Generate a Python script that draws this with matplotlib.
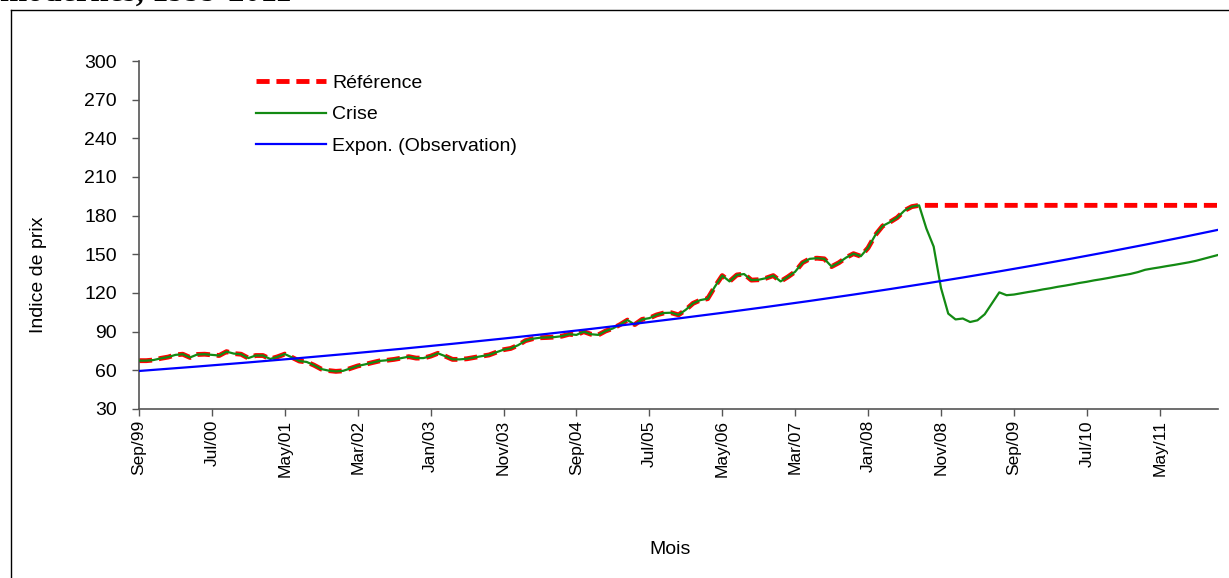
import numpy as np
import matplotlib
matplotlib.use("Agg")
import matplotlib.pyplot as plt
from matplotlib.lines import Line2D

# Monthly price index, Sep 1999 .. Jan 2012
crise = [
    67.5, 67.5, 68.0, 69.3, 70.3, 72.0, 72.5, 70.0, 72.3, 72.5,
    72.0, 71.5, 74.5, 73.0, 72.5, 69.5, 71.5, 71.5, 68.8, 70.5,
    72.6, 70.0, 67.2, 66.5, 64.0, 61.0, 59.8, 59.2, 59.6, 61.5,
    63.4, 64.6, 66.0, 67.3, 67.8, 68.5, 69.5, 70.6, 69.5, 69.5,
    71.0, 73.2, 71.0, 68.5, 68.5, 69.0, 70.0, 71.0, 71.9, 74.0,
    76.0, 77.0, 79.5, 83.0, 84.5, 85.3, 85.5, 85.8, 86.5, 88.0,
    87.5, 90.0, 88.0, 87.5, 90.5, 92.5, 95.5, 99.0, 95.5, 99.5,
    100.5, 103.0, 104.5, 104.7, 103.0, 107.0, 112.0, 114.5, 115.6, 125.0,
    133.5, 129.0, 134.0, 134.7, 130.0, 130.3, 131.5, 133.5, 129.0, 132.5,
    136.5, 143.5, 146.5, 147.0, 146.5, 140.5, 143.5, 147.5, 150.5, 148.5,
    155.0, 165.0, 172.0, 175.0, 178.5, 184.0, 187.0, 188.0,
    170.0, 156.0, 124.0, 104.0, 99.5, 100.2, 97.5, 98.8, 103.5, 112.0,
    120.5, 118.3, 118.8, 119.8, 120.8, 121.7, 122.8, 123.7, 124.8, 125.7,
    126.7, 127.8, 128.7, 129.8, 130.7, 131.7, 132.8, 133.8, 134.8, 136.2,
    138.0, 139.0, 139.9, 140.9, 141.8, 142.8, 143.8, 145.0, 146.5, 148.0,
    149.5,
]
peak_idx = 107          # last month before the crisis
ref_level = 188.0       # reference stays at the peak level afterwards

# exponential trendline: value at first and last month
trend_first = 59.5
trend_last = 169.0

tick_labels = ["Sep/99", "Jul/00", "May/01", "Mar/02", "Jan/03", "Nov/03",
               "Sep/04", "Jul/05", "May/06", "Mar/07", "Jan/08", "Nov/08",
               "Sep/09", "Jul/10", "May/11"]

months = np.arange(len(crise))
crise = np.array(crise)
reference = np.where(months <= peak_idx, crise, ref_level)
trend = np.geomspace(trend_first, trend_last, len(months))

plt.rcParams['font.family'] = ['Liberation Sans', 'DejaVu Sans']
fs = 14

fig = plt.figure(figsize=(12.29, 5.78), dpi=100)
ax = fig.add_axes([139 / 1229, 1 - 409 / 578, 1079 / 1229, 348 / 578])

ax.plot(months, reference, color='#ff0000', lw=3.5, dashes=(2.7, 1.4),
        dash_capstyle='butt', label='Référence', zorder=2)
ax.plot(months, crise, color='#138a13', lw=1.6, label='Crise', zorder=3)
ax.plot(months, trend, color='#0000ff', lw=1.6, label='Expon. (Observation)', zorder=4)

ax.set_xlim(0, len(crise) - 1)
ax.set_ylim(30, 300)
ax.set_yticks(np.arange(30, 301, 30))
ax.set_xticks(np.arange(0, len(tick_labels) * 10, 10))
ax.set_xticklabels(tick_labels, rotation=90)

for s in ['top', 'right']:
    ax.spines[s].set_visible(False)
for s in ['left', 'bottom']:
    ax.spines[s].set_color('#555555')
    ax.spines[s].set_linewidth(1.2)
ax.tick_params(axis='both', direction='out', length=5, width=1, color='#555555')
ax.tick_params(axis='y', pad=11, labelsize=fs)
ax.tick_params(axis='x', pad=3, labelsize=12.5)

ax.set_ylabel('Indice de prix', fontsize=fs)
ax.set_xlabel('Mois', fontsize=fs)
ax.yaxis.set_label_coords(-0.085, 0.385)
ax.xaxis.set_label_coords(0.492, -0.379)

ax.legend(loc='upper left', bbox_to_anchor=(0.108, 0.962), frameon=False,
          fontsize=fs, handlelength=3.6, handletextpad=0.35, labelspacing=0.72,
          borderpad=0, borderaxespad=0)

# outer frame around the chart
fig.add_artist(Line2D([11 / 1229, 11 / 1229], [0, 1 - 10 / 578], color='black', lw=1))
fig.add_artist(Line2D([11 / 1229, 1], [1 - 10 / 578, 1 - 10 / 578], color='black', lw=1))

fig.text(0.0, 1 - 0.5 / 578, 'modernes, 1999-2011', family='Liberation Serif',
         weight='bold', fontsize=23.5, ha='left', va='baseline')

fig.savefig('out.png', dpi=100)
